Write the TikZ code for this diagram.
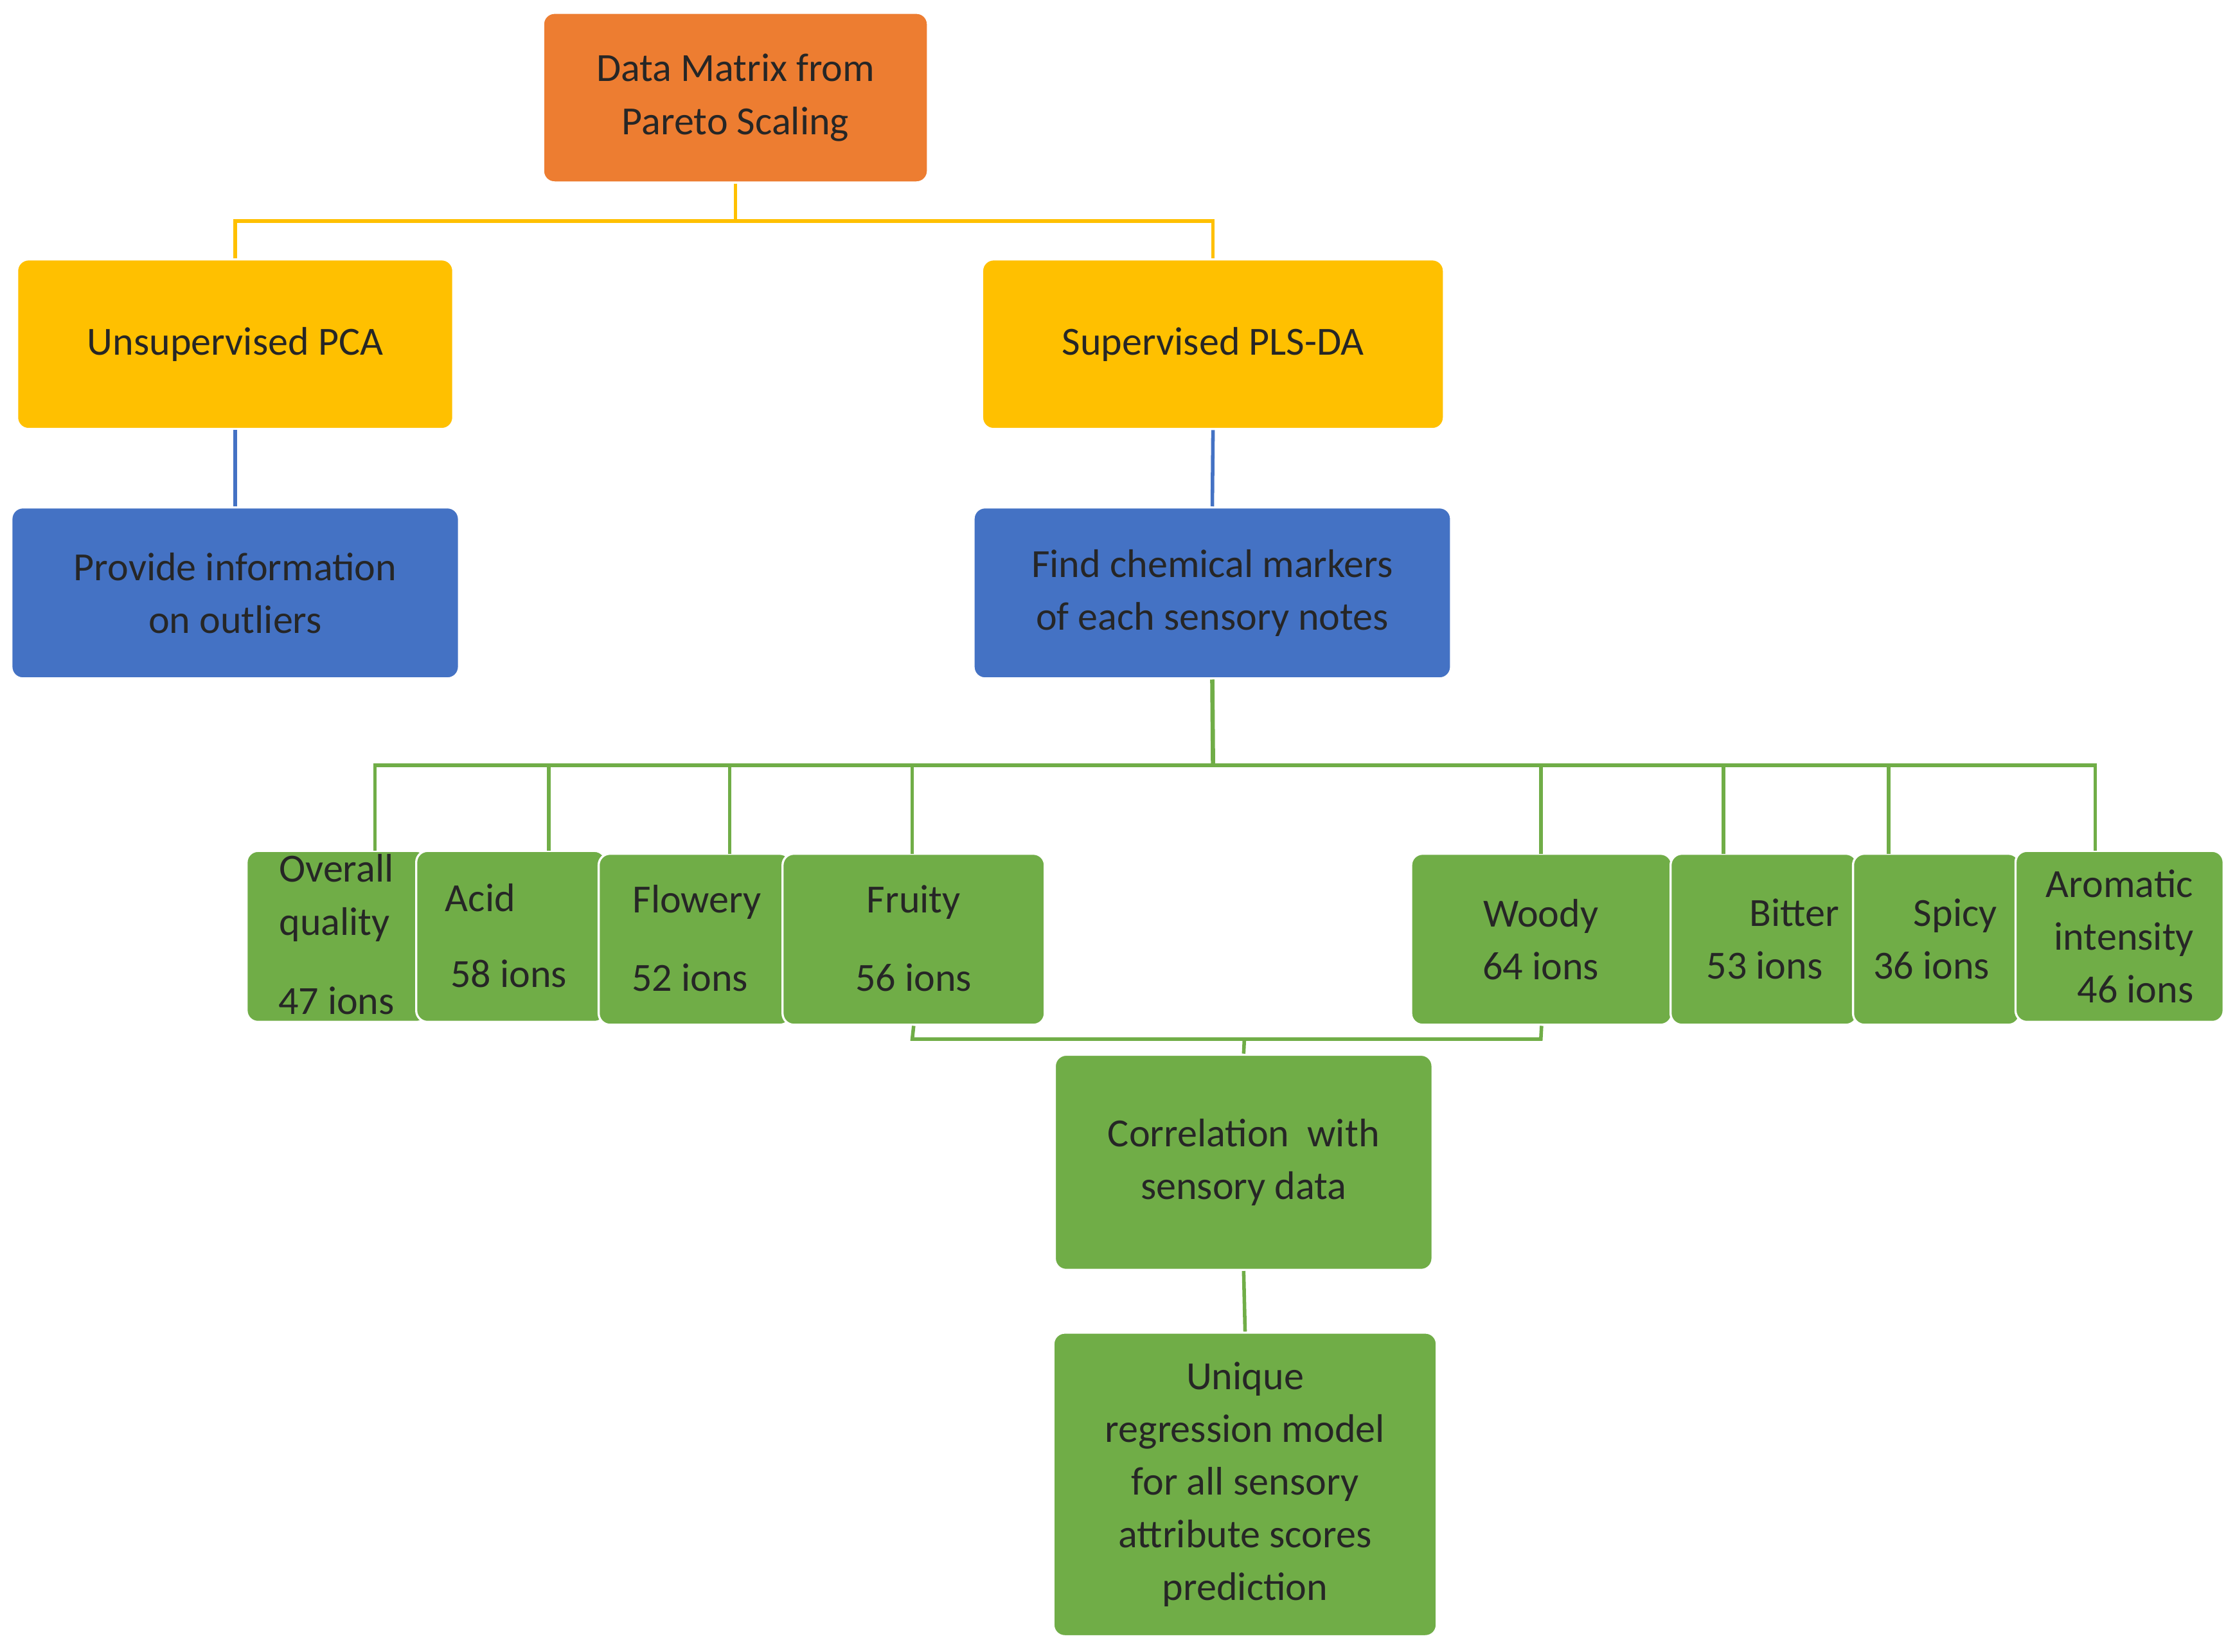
\documentclass[tikz,border=0pt]{standalone}
\usepackage{fontspec}
\setmainfont{Carlito}
\definecolor{org}{HTML}{ED7D31}
\definecolor{yel}{HTML}{FFC000}
\definecolor{blu}{HTML}{4472C4}
\definecolor{grn}{HTML}{70AD47}
\begin{document}
\begin{tikzpicture}[x=1pt,y=-1pt,
 box/.style={draw=white,line width=1.5pt,rounded corners=8pt,inner sep=0pt,font=\fontsize{28}{37}\selectfont,align=center,text=black!85},
 txt/.style={inner sep=0pt,font=\fontsize{28}{37}\selectfont,align=center,text=black!85},
 ln/.style={line width=2.5pt}]
\useasboundingbox (0,0) rectangle (1568,1159);
\def\bx#1#2#3#4#5#6#7{\node[box,fill=#6,minimum width=#3-#2,minimum height=#5-#4] (#1) at ({(#2+#3)/2},{(#4+#5)/2}) {#7};}
\bx{dm}{381}{651}{9}{128}{org}{Data Matrix from\\Pareto Scaling}
\bx{pca}{12}{318}{182}{301}{yel}{Unsupervised PCA}
\bx{pls}{689}{1013}{182}{301}{yel}{Supervised PLS-DA}
\bx{out}{8}{322}{356}{476}{blu}{Provide information\\on outliers}
\bx{fcm}{683}{1018}{356}{476}{blu}{Find chemical markers\\of each sensory notes}
\bx{ov}{173}{300}{597}{717}{grn}{}
\bx{ac}{292}{425}{597}{717}{grn}{}
\bx{fl}{420}{555}{599}{719}{grn}{}
\bx{fr}{549}{733}{599}{719}{grn}{}
\bx{wo}{990}{1173}{599}{719}{grn}{}
\bx{bi}{1172}{1303}{599}{719}{grn}{}
\bx{sp}{1300}{1417}{599}{719}{grn}{}
\bx{ar}{1414}{1560}{597}{717}{grn}{}
\bx{cor}{740}{1005}{740}{891}{grn}{Correlation\ \ with\\sensory data}
\bx{uni}{739}{1008}{935}{1148}{grn}{Unique\\regression model\\for all sensory\\attribute scores\\prediction}
\node[txt,align=left] (t1) at (236,630) {Overall\\quality};
\node[txt] (t1b) at (236,702) {47 ions};
\node[txt] (t2) at (337,630) {Acid};
\node[txt] (t2b) at (357,683) {58 ions};
\node[txt] (t3) at (489,633) {Flowery};
\node[txt] (t3b) at (484,686) {52 ions};
\node[txt] (t4) at (641,633) {Fruity};
\node[txt] (t4b) at (641,686) {56 ions};
\node[txt] (t5) at (1081,659) {Woody\\64 ions};
\node[txt] (t6) at (1238,659) {\hspace*{1.5em}Bitter\\53 ions};
\node[txt] (t7) at (1355,659) {\hspace*{1.2em}Spicy\\36 ions};
\node[txt] (t8) at (1487,657) {Aromatic\\\ intensity\\\hspace*{0.8em}46 ions};
% connectors
\draw[ln,yel] (dm.south) -- (516,155) coordinate (y0);
\draw[ln,yel] (pca.north) -- (165,155) -- (851,155) -- (pls.north);
\draw[ln,blu] (pca.south) -- (out.north);
\draw[ln,blu] (pls.south) -- (fcm.north);
\draw[ln,grn,line width=3pt] (fcm.south) -- (851,537) coordinate (g0);
\draw[ln,grn] (263,597) -- (263,537) -- (1470,537) -- (1470,597);
\foreach \x/\n in {385/ac,512/fl,640/fr,1081/wo,1209/bi,1325/sp}
  \draw[ln,grn] (\x,537) -- (\x,\ifnum\x<400 597\else 599\fi);
\draw[ln,grn] (fr.south) -- (640,729) -- (1081,729) -- (wo.south);
\draw[ln,grn] (873,729) -- (cor.north);
\draw[ln,grn] (cor.south) -- (uni.north);
\end{tikzpicture}
\end{document}
